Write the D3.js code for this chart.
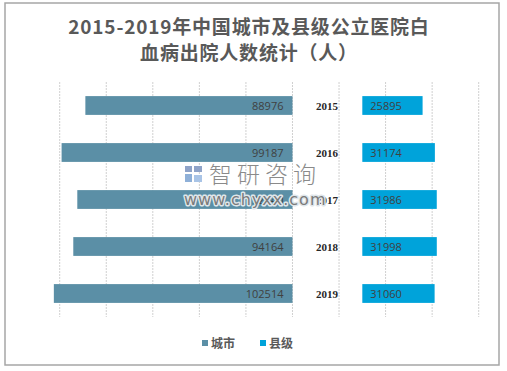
<html>
<head>
<meta charset="utf-8">
<script src="https://d3js.org/d3.v7.min.js"></script>
<style>
  body { margin: 0; background: #fff; }
  svg { display: block; }
</style>
</head>
<body>
<svg width="507" height="371"></svg>
<script>
// data
var years = ['2015', '2016', '2017', '2018', '2019'];
var city = [88976, 99187, 92440, 94164, 102514];
var county = [25895, 31174, 31986, 31998, 31060];
var seriesNames = ['城市', '县级'];
var gridTicks = [-100000, -80000, -60000, -40000, -20000, 0, 20000, 40000, 60000, 80000];
var gap = 30000; // invisible offset series that holds the year labels

var colors = ['#5b8fa6', '#00a3da'];

var svg = d3.select('svg');

// outer frame
svg.append('rect')
  .attr('x', 5).attr('y', 3)
  .attr('width', 494).attr('height', 362)
  .attr('fill', '#fff')
  .attr('stroke', '#a6a6a6')
  .attr('stroke-width', 1.5);

// title
var title = svg.append('text')
  .attr('text-anchor', 'middle')
  .attr('fill', '#595959')
  .style('font-family', '"Noto Sans CJK SC", sans-serif')
  .style('font-size', '19px')
  .style('letter-spacing', '0.8px')
  .style('font-weight', 'bold');
title.append('tspan').attr('x', 249).attr('y', 34).text('2015-2019年中国城市及县级公立医院白');
title.append('tspan').attr('x', 249).attr('y', 60).text('血病出院人数统计（人）');

var x = d3.scaleLinear().domain([-100000, 80000]).range([59.7, 478.7]);
var y = d3.scaleBand().domain(years).range([82, 317]).paddingInner(0.6).paddingOuter(0.3);

// gridlines
svg.append('g')
  .selectAll('line')
  .data(gridTicks)
  .enter()
  .append('line')
  .attr('x1', function(d) { return x(d); })
  .attr('x2', function(d) { return x(d); })
  .attr('y1', 82)
  .attr('y2', 317)
  .attr('stroke', '#d0d0d0')
  .attr('stroke-dasharray', '2,1')
  .attr('stroke-width', 1);

// city bars (to the left)
svg.append('g')
  .selectAll('rect')
  .data(city)
  .enter()
  .append('rect')
  .attr('x', function(d) { return x(-d); })
  .attr('y', function(d, i) { return y(years[i]); })
  .attr('width', function(d) { return x(0) - x(-d); })
  .attr('height', y.bandwidth())
  .attr('fill', colors[0]);

// county bars (to the right, after the gap)
svg.append('g')
  .selectAll('rect')
  .data(county)
  .enter()
  .append('rect')
  .attr('x', x(gap))
  .attr('y', function(d, i) { return y(years[i]); })
  .attr('width', function(d) { return x(gap + d) - x(gap); })
  .attr('height', y.bandwidth())
  .attr('fill', colors[1]);

var labelFont = '"Open Sans", sans-serif';

// value labels
svg.append('g')
  .selectAll('text')
  .data(city)
  .enter()
  .append('text')
  .attr('x', x(0) - 9)
  .attr('y', function(d, i) { return y(years[i]) + y.bandwidth() / 2 + 4; })
  .attr('text-anchor', 'end')
  .attr('fill', '#404040')
  .style('font-family', labelFont)
  .style('font-size', '11px')
  .text(function(d) { return d; });

svg.append('g')
  .selectAll('text')
  .data(county)
  .enter()
  .append('text')
  .attr('x', x(gap) + 8)
  .attr('y', function(d, i) { return y(years[i]) + y.bandwidth() / 2 + 4; })
  .attr('fill', '#404040')
  .style('font-family', labelFont)
  .style('font-size', '11px')
  .text(function(d) { return d; });

// year labels in the gap
svg.append('g')
  .selectAll('text')
  .data(years)
  .enter()
  .append('text')
  .attr('x', x(20000) - 1)
  .attr('y', function(d) { return y(d) + y.bandwidth() / 2 + 4; })
  .attr('text-anchor', 'end')
  .attr('fill', '#262626')
  .style('font-family', '"Liberation Serif", serif')
  .style('font-size', '11px')
  .style('font-weight', 'bold')
  .text(function(d) { return d; });

// watermark, on top like in the picture
var wm = svg.append('g');
wm.append('rect').attr('x', 185).attr('y', 166).attr('width', 7).attr('height', 6).attr('fill', '#8fa3c8');
wm.append('rect').attr('x', 194).attr('y', 166).attr('width', 8).attr('height', 6).attr('fill', '#8fa3c8');
wm.append('rect').attr('x', 185).attr('y', 174).attr('width', 7).attr('height', 8).attr('fill', '#8fb0d8');
wm.append('rect').attr('x', 194).attr('y', 175).attr('width', 8).attr('height', 7).attr('fill', '#a9c4e6');
wm.append('text')
  .attr('x', 209).attr('y', 183)
  .attr('fill', '#8a8a8a')
  .style('font-family', '"Noto Sans CJK SC", sans-serif')
  .style('font-size', '23px')
  .style('font-weight', '300')
  .style('letter-spacing', '5px')
  .text('智研咨询');
wm.append('text')
  .attr('x', 184).attr('y', 205)
  .attr('fill', '#7a7a7a')
  .attr('stroke', '#dfe6ea')
  .attr('stroke-width', 3)
  .attr('stroke-linejoin', 'round')
  .attr('paint-order', 'stroke')
  .style('font-family', '"DejaVu Sans", sans-serif')
  .style('font-size', '16px')
  .style('letter-spacing', '1px')
  .text('www.chyxx.com');

// legend
var legend = svg.append('g')
  .selectAll('g')
  .data(seriesNames)
  .enter()
  .append('g')
  .attr('transform', function(d, i) { return 'translate(' + (202 + i * 58) + ',343)'; });
legend.append('rect')
  .attr('x', 0).attr('y', -3)
  .attr('width', 6).attr('height', 6)
  .attr('fill', function(d, i) { return colors[i]; });
legend.append('text')
  .attr('x', 9).attr('y', 4.5)
  .attr('fill', '#595959')
  .style('font-family', '"Noto Sans CJK SC", sans-serif')
  .style('font-size', '12px')
  .style('font-weight', 'bold')
  .text(function(d) { return d; });
</script>
</body>
</html>
